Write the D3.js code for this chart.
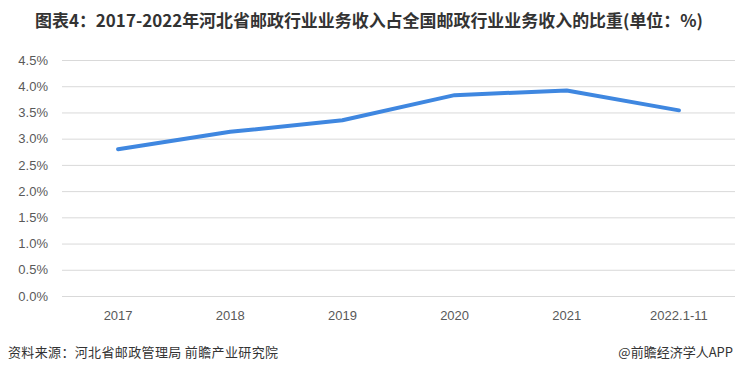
<!DOCTYPE html>
<html>
<head>
<meta charset="utf-8">
<script src="https://cdn.jsdelivr.net/npm/d3@7"></script>
<style>
	body { margin: 0; background: #fff; }
	svg { display: block; font-family: "Noto Sans CJK SC", "Liberation Sans", sans-serif; }
</style>
</head>
<body>
<div id="chart"></div>
<script>
// Data
var years = ['2017', '2018', '2019', '2020', '2021', '2022.1-11'];
var shares = [2.80, 3.13, 3.35, 3.83, 3.92, 3.54];
var y_ticks = [0, 0.5, 1.0, 1.5, 2.0, 2.5, 3.0, 3.5, 4.0, 4.5];

var title = '图表4：2017-2022年河北省邮政行业业务收入占全国邮政行业业务收入的比重(单位：%)';
var source = '资料来源：河北省邮政管理局 前瞻产业研究院';
var credit = '@前瞻经济学人APP';

var total_width = 738;
var total_height = 374;
var margin = {
	top: 60,
	right: 3,
	bottom: 78,
	left: 62
};
var width = total_width - margin.left - margin.right;
var height = total_height - margin.top - margin.bottom;

var svg = d3.select('#chart')
	.append('svg')
	.attr('width', total_width)
	.attr('height', total_height);

// Title
svg.append('text')
	.attr('x', total_width / 2)
	.attr('y', 27)
	.attr('text-anchor', 'middle')
	.attr('font-size', '17px')
	.attr('font-weight', 'bold')
	.attr('fill', '#333')
	.attr('textLength', 668)
	.attr('lengthAdjust', 'spacingAndGlyphs')
	.text(title);

var main = svg.append('g')
	.attr('transform', 'translate(' + margin.left + ',' + margin.top + ')');

var x_scale = d3.scaleBand().domain(years).range([0, width]);
var y_scale = d3.scaleLinear().domain([0, 4.5]).range([height, 0]);

// Gridlines
main.append('g')
	.attr('class', 'grid')
	.call(d3.axisLeft(y_scale).tickValues(y_ticks).tickSize(-width).tickFormat(''))
	.call(function(g) {
		g.select('.domain').remove();
		g.selectAll('line').attr('stroke', '#d9d9d9').attr('stroke-width', 1);
	});

// Y axis labels
main.append('g')
	.call(d3.axisLeft(y_scale).tickValues(y_ticks).tickSize(0).tickPadding(14)
		.tickFormat(function(d) { return d.toFixed(1) + '%'; }))
	.call(function(g) {
		g.select('.domain').remove();
		g.selectAll('text')
			.attr('font-size', '13px')
			.attr('fill', '#595959')
			.attr('font-family', '"Liberation Sans", sans-serif');
	});

// X axis labels
main.append('g')
	.attr('transform', 'translate(0,' + height + ')')
	.call(d3.axisBottom(x_scale).tickSize(0).tickPadding(15))
	.call(function(g) {
		g.select('.domain').remove();
		g.selectAll('text')
			.attr('font-size', '13px')
			.attr('fill', '#595959')
			.attr('font-family', '"Liberation Sans", sans-serif');
	});

// Line
var line = d3.line()
	.x(function(d, i) { return x_scale(years[i]) + x_scale.bandwidth() / 2; })
	.y(function(d) { return y_scale(d); });

main.append('path')
	.datum(shares)
	.attr('d', line)
	.attr('fill', 'none')
	.attr('stroke', '#3f87e0')
	.attr('stroke-width', 4)
	.attr('stroke-linejoin', 'round')
	.attr('stroke-linecap', 'round');

// Footer
svg.append('text')
	.attr('x', 8)
	.attr('y', 357)
	.attr('font-size', '13px')
	.attr('fill', '#333')
	.attr('textLength', 270)
	.attr('lengthAdjust', 'spacing')
	.text(source);

svg.append('text')
	.attr('x', 733)
	.attr('y', 357)
	.attr('text-anchor', 'end')
	.attr('font-size', '13px')
	.attr('fill', '#333')
	.text(credit);
</script>
</body>
</html>
